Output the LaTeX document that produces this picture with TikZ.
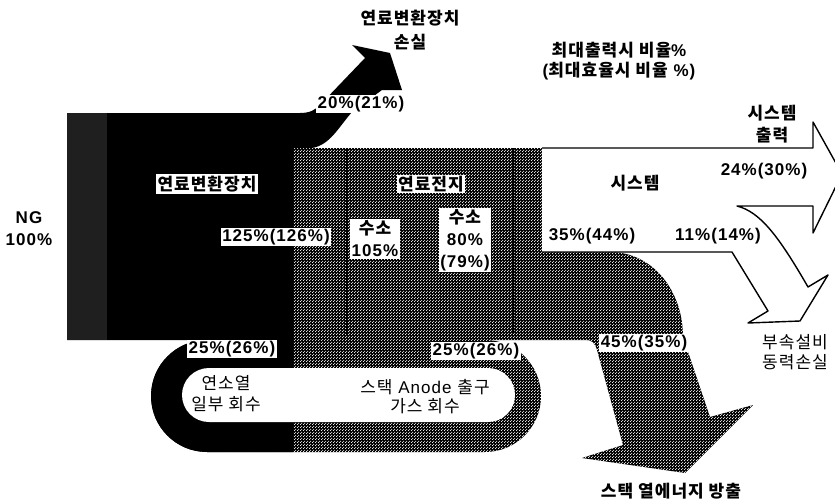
\documentclass[tikz,border=0pt]{standalone}
\usepackage{fontspec}
\setmainfont{Liberation Sans}[LetterSpace=6]
\newfontfamily\krfont{Noto Sans CJK KR}[LetterSpace=6]
\newcommand\hk[1]{{\krfont #1}}
\usetikzlibrary{patterns}
\pgfdeclarepatternformonly{dither}{\pgfqpoint{0pt}{0pt}}{\pgfqpoint{3pt}{3pt}}{\pgfqpoint{3pt}{3pt}}{%
  \pgfpathcircle{\pgfqpoint{0.75pt}{0.75pt}}{0.72pt}%
  \pgfpathcircle{\pgfqpoint{2.25pt}{2.25pt}}{0.72pt}%
  \pgfusepath{fill}}
\begin{document}
\begin{tikzpicture}[x=1pt,y=-1pt,
  txt/.style={font=\fontsize{17}{#1}\selectfont\bfseries, align=center, inner sep=1pt},
  txt/.default=21,
  rtxt/.style={font=\fontsize{17}{#1}\selectfont, align=center, inner sep=1pt},
  rtxt/.default=21,
  wtxt/.style={txt=#1, fill=white, inner sep=1.5pt},
  wtxt/.default=21,
  dith/.style={preaction={fill=black}, pattern=dither, pattern color=white},
  outl/.style={draw=black, line width=1.4pt, line join=round},
]
\useasboundingbox (0,0) rectangle (835,503);

% recycle loop (hatched, with black left part)
\path[dith, rounded corners=56pt] (151,340) rectangle (541,452);
\begin{scope}
  \clip (140,330) rectangle (293,460);
  \fill[black, rounded corners=56pt] (151,340) rectangle (541,452);
\end{scope}

% fuel cell + stack heat arrow
\path[dith] (293,148) -- (542,148) -- (542,252) -- (610,252)
  .. controls (652,252) and (683,290) .. (683,337) -- (710,417) -- (753,405)
  -- (685,473) -- (582,458) -- (623,445) -- (597,350)
  .. controls (595,343) and (592,340) .. (586,340) -- (293,340) -- cycle;

% inner hole of loop
\fill[white, rounded corners=27pt] (182,368) rectangle (515,422);

% fuel processor with loss arrow
\fill[black] (67,113) -- (300,113) .. controls (310,113) and (315,110) .. (320,105)
  -- (365,58) -- (352,45) -- (390,53) -- (402,90) -- (382,90) -- (352,112)
  .. controls (338,128) and (330,145) .. (312,148) -- (293,148) -- (293,340)
  -- (67,340) -- cycle;
\fill[black!88] (67,113) rectangle (107,340);

% stack dividers
\draw[line width=1.6pt] (347,148) -- (347,335);
\draw[line width=1.6pt] (513,148) -- (513,333);

% system arrow
\begin{scope}
  \clip (0,0) rectangle (835,503);
  \filldraw[fill=white, outl] (542,148) -- (813,148) -- (813,122) -- (842,174)
    -- (813,233) -- (813,206) -- (737,206) .. controls (760,212) and (778,235) .. (808,287)
    -- (828,275) -- (800,321) -- (748,323) -- (768,311) -- (732,252) -- (542,252);
\end{scope}

% texts
\node[txt=24] (loss) at (410,30) {\hk{연료변환장치}\\\hk{손실}};
\node[txt=20] (legend) at (619,61) {\hk{최대출력시 비율}\%\\(\hk{최대효율시 비율} \%)};
\node[txt=22] (sysout) at (772,124) {\hk{시스템}\\\hk{출력}};
\node[txt] (p24) at (764,171) {24\%(30\%)};
\node[txt] (sys) at (635,183) {\hk{시스템}};
\node[txt] (p35) at (592,236) {35\%(44\%)};
\node[txt] (p11) at (718,236) {11\%(14\%)};
\node[wtxt] (p45) at (644,343) {45\%(35\%)};
\node[txt] (heat) at (671,491) {\hk{스택 열에너지 방출}};
\node[rtxt=20] (aux) at (795,352) {\hk{부속설비}\\\hk{동력손실}};
\node[txt=22] (ng) at (29,229) {NG\\100\%};
\node[wtxt] (fp) at (207,184) {\hk{연료변환장치}};
\node[wtxt] (p125) at (276,237) {125\%(126\%)};
\node[wtxt] (p20) at (361,104) {20\%(21\%)};
\node[wtxt] (fc) at (431,184) {\hk{연료전지}};
\node[wtxt=22] (h105) at (375,239) {\hk{수소}\\105\%};
\node[wtxt=22] (h80) at (465,240) {\hk{수소}\\80\%\\(79\%)};
\node[wtxt] (p25a) at (232,349) {25\%(26\%)};
\node[wtxt] (p25b) at (476,351) {25\%(26\%)};
\node[rtxt=21] (comb) at (226,394) {\hk{연소열}\\\hk{일부 회수}};
\node[rtxt=19] (anode) at (425,397) {\hk{스택} Anode \hk{출구}\\\hk{가스 회수}};
\end{tikzpicture}
\end{document}
